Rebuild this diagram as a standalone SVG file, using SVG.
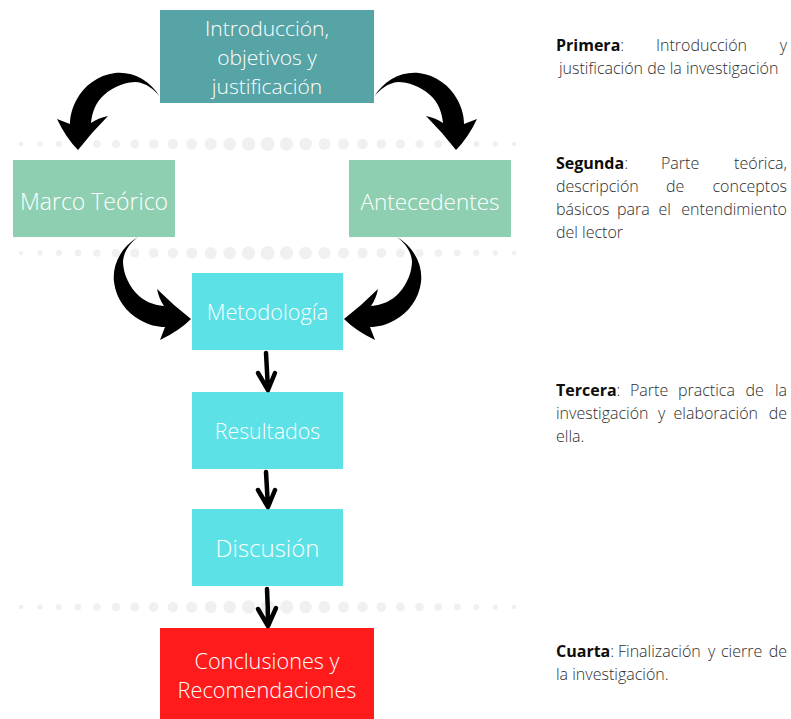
<svg xmlns="http://www.w3.org/2000/svg" xmlns:xlink="http://www.w3.org/1999/xlink" width="791" height="719" viewBox="0 0 791 719">
<style>
.box-t{font-family:"Open Sans","Liberation Sans",sans-serif;font-weight:300;font-size:21px;fill:#ffffff;text-anchor:middle}
.desc{font-family:"Open Sans","Liberation Sans",sans-serif;font-weight:300;font-size:16px;fill:#2e2e2e}
.b{font-weight:700;fill:#0d0d0d}
.dot{fill:#f0f0f0}
.small{fill:none;stroke:#000;stroke-width:4.5;stroke-linecap:round;stroke-linejoin:round}
</style>
<defs>
<path id="bigArrow" d="M160,97 C150,80 132,71 115,73 C98,75 84,86 77,99 C72,108 70,116 70,124 L57,119 Q66,138 78,150 Q92,132 108,116 Q98,118 91,123 C92,112 96,102 104,95 C114,86 126,82 136,82 C146,83 154,89 160,97 Z" fill="#000"/>
<g id="dotline">
<circle class="dot" cx="21" cy="0" r="2.3"/><circle class="dot" cx="40" cy="0" r="2.66"/><circle class="dot" cx="58.9" cy="0" r="3.02"/><circle class="dot" cx="77.9" cy="0" r="3.38"/><circle class="dot" cx="96.9" cy="0" r="3.75"/><circle class="dot" cx="115.9" cy="0" r="4.11"/><circle class="dot" cx="134.8" cy="0" r="4.47"/><circle class="dot" cx="153.8" cy="0" r="4.83"/><circle class="dot" cx="172.8" cy="0" r="5.19"/><circle class="dot" cx="191.7" cy="0" r="5.55"/><circle class="dot" cx="210.7" cy="0" r="5.92"/><circle class="dot" cx="229.7" cy="0" r="6.28"/><circle class="dot" cx="248.6" cy="0" r="6.64"/><circle class="dot" cx="267.6" cy="0" r="7"/><circle class="dot" cx="286.6" cy="0" r="6.64"/><circle class="dot" cx="305.6" cy="0" r="6.28"/><circle class="dot" cx="324.5" cy="0" r="5.92"/><circle class="dot" cx="343.5" cy="0" r="5.55"/><circle class="dot" cx="362.5" cy="0" r="5.19"/><circle class="dot" cx="381.4" cy="0" r="4.83"/><circle class="dot" cx="400.4" cy="0" r="4.47"/><circle class="dot" cx="419.4" cy="0" r="4.11"/><circle class="dot" cx="438.3" cy="0" r="3.75"/><circle class="dot" cx="457.3" cy="0" r="3.38"/><circle class="dot" cx="476.3" cy="0" r="3.02"/><circle class="dot" cx="495.3" cy="0" r="2.66"/><circle class="dot" cx="514.2" cy="0" r="2.3"/>
</g>
</defs>
<rect width="791" height="719" fill="#ffffff"/>
<g id="dividers">
<use xlink:href="#dotline" transform="translate(0,144)"/>
<use xlink:href="#dotline" transform="translate(0,253)"/>
<use xlink:href="#dotline" transform="translate(0,607)"/>
</g>
<g id="node-intro">
<rect x="160" y="10" width="214" height="93" fill="#56a4a6"/>
<text class="box-t" x="267" y="36">Introducción,</text>
<text class="box-t" x="267" y="65">objetivos y</text>
<text class="box-t" x="267" y="94">justificación</text>
</g>
<g id="node-marco">
<rect x="13" y="160" width="162" height="77" fill="#8ecfb1"/>
<text class="box-t" x="94" y="210" style="font-size:23px">Marco Teórico</text>
</g>
<g id="node-antecedentes">
<rect x="349" y="160" width="162" height="77" fill="#8ecfb1"/>
<text class="box-t" x="430" y="210" style="font-size:22.5px">Antecedentes</text>
</g>
<g id="node-metodologia">
<rect x="192" y="273" width="151" height="77" fill="#5ce1e6"/>
<text class="box-t" x="267.5" y="320" style="font-size:21.7px">Metodología</text>
</g>
<g id="node-resultados">
<rect x="192" y="392" width="151" height="77" fill="#5ce1e6"/>
<text class="box-t" x="267.5" y="439" style="font-size:21.4px">Resultados</text>
</g>
<g id="node-discusion">
<rect x="192" y="509" width="151" height="77" fill="#5ce1e6"/>
<text class="box-t" x="267.5" y="557" style="font-size:24px">Discusión</text>
</g>
<g id="node-conclusiones">
<rect x="160" y="628" width="214" height="91" fill="#ff1b1c"/>
<text class="box-t" x="267" y="669" style="font-size:21.7px">Conclusiones y</text>
<text class="box-t" x="267" y="698" style="font-size:21.7px">Recomendaciones</text>
</g>
<g id="connectors">
<use xlink:href="#bigArrow"/>
<use xlink:href="#bigArrow" transform="matrix(-1,0,0,1,534,0)"/>
<use xlink:href="#bigArrow" transform="matrix(0,-1,1,0,41,397)"/>
<use xlink:href="#bigArrow" transform="matrix(0,-1,-1,0,494,397)"/>
<path class="small" d="M266,353 Q267,372 268,390 M258,373 L268,390 L275,373"/>
<path class="small" d="M266,472 Q267,490 268,507 M258,490 L268,507 L275,490"/>
<path class="small" d="M267,589 Q268,607 268,626 M258,609 L268,626 L276,608"/>
</g>
<g id="descriptions">
<text class="desc" y="51"><tspan x="556" class="b">Primera</tspan><tspan>:</tspan><tspan x="656">Introducción</tspan><tspan x="787" text-anchor="end">y</tspan></text>
<text class="desc" x="559" y="74">justificación de la investigación</text>
<text class="desc" y="169"><tspan x="556" class="b">Segunda</tspan><tspan>:</tspan><tspan x="661">Parte</tspan><tspan x="787" text-anchor="end">teórica,</tspan></text>
<text class="desc" y="192"><tspan x="556">descripción</tspan><tspan x="666">de</tspan><tspan x="787" text-anchor="end">conceptos</tspan></text>
<text class="desc" y="215"><tspan x="556">básicos</tspan><tspan x="617">para</tspan><tspan x="658.5">el</tspan><tspan x="787" text-anchor="end">entendimiento</tspan></text>
<text class="desc" x="556" y="238">del lector</text>
<text class="desc" y="396"><tspan x="556" class="b">Tercera</tspan><tspan>:</tspan><tspan x="630">Parte</tspan><tspan x="678">practica</tspan><tspan x="745.5">de</tspan><tspan x="787" text-anchor="end">la</tspan></text>
<text class="desc" y="419"><tspan x="556">investigación</tspan><tspan x="658">y</tspan><tspan x="673.5">elaboración</tspan><tspan x="787" text-anchor="end">de</tspan></text>
<text class="desc" x="556" y="442">ella.</text>
<text class="desc" y="657"><tspan x="556" class="b">Cuarta</tspan><tspan>:</tspan><tspan x="618">Finalización</tspan><tspan x="708">y</tspan><tspan x="721">cierre</tspan><tspan x="787" text-anchor="end">de</tspan></text>
<text class="desc" x="556" y="680">la investigación.</text>
</g>
</svg>
